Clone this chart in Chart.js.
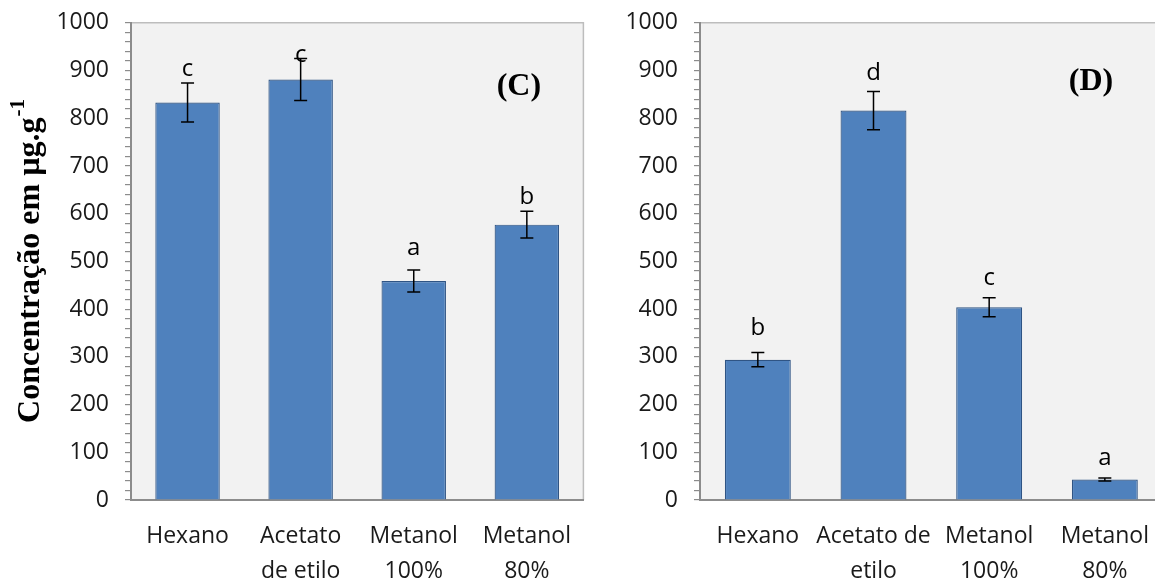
<!DOCTYPE html>
<html>
<head>
<meta charset="utf-8">
<script src="https://cdn.jsdelivr.net/npm/chart.js@4.4.1/dist/chart.umd.min.js"></script>
<style>
  body { margin: 0; background: #fff; width: 1155px; height: 583px; overflow: hidden; position: relative; }
  #panelC { position: absolute; left: 0; top: -7px; }
  #panelD { position: absolute; left: 580px; top: -7px; }
</style>
</head>
<body>
<canvas id="panelC" width="590" height="590"></canvas>
<canvas id="panelD" width="588" height="590"></canvas>
<script>
// panel C
const categoriesC = ["Hexano", ["Acetato", "de etilo"], ["Metanol", "100%"], ["Metanol", "80%"]];
const valuesC = [833, 881, 459, 577];
const errorsC = [41, 44, 23, 28];
const lettersC = ["c", "c", "a", "b"];
const letterYC = [902, 933, 527, 635];

// panel D
const categoriesD = ["Hexano", ["Acetato de", "etilo"], ["Metanol", "100%"], ["Metanol", "80%"]];
const valuesD = [294, 816, 404, 43];
const errorsD = [15, 40, 20, 3];
const lettersD = ["b", "d", "c", "a"];
const letterYD = [360, 895, 465, 88];

const yTicks = [0, 100, 200, 300, 400, 500, 600, 700, 800, 900, 1000];
const yTitle = "Concentração em µg.g";
const yTitleSup = "-1";

const tickFont = "Open Sans";
const gray = "#8c8c8c";

function panelPlugin(errors, letters, letterY, tag, tagPos, withTitle) {
  return {
    id: "panel" + tag,
    beforeDraw(chart) {
      const a = chart.chartArea;
      const c = chart.ctx;
      c.save();
      c.fillStyle = "#f2f2f2";
      c.fillRect(a.left, a.top, a.right - a.left, a.bottom - a.top);
      c.strokeStyle = "#bdbdbd";
      c.lineWidth = 1.5;
      c.beginPath();
      c.moveTo(a.left, a.top);
      c.lineTo(a.right, a.top);
      c.lineTo(a.right, a.bottom);
      c.stroke();
      c.restore();
    },
    afterDatasetsDraw(chart) {
      const c = chart.ctx;
      const x = chart.scales.x;
      const y = chart.scales.y;
      const vals = chart.data.datasets[0].data;
      c.save();
      // error bars
      c.strokeStyle = "#000";
      c.lineWidth = 1.5;
      vals.forEach((v, i) => {
        const px = x.getPixelForValue(i);
        const hi = y.getPixelForValue(v + errors[i]);
        const lo = y.getPixelForValue(v - errors[i]);
        c.beginPath();
        c.moveTo(px, hi); c.lineTo(px, lo);
        c.moveTo(px - 6.5, hi); c.lineTo(px + 6.5, hi);
        c.moveTo(px - 6.5, lo); c.lineTo(px + 6.5, lo);
        c.stroke();
      });
      // significance letters
      c.fillStyle = "#000";
      c.font = "24px '" + tickFont + "'";
      c.textAlign = "center";
      c.textBaseline = "middle";
      letters.forEach((t, i) => {
        c.fillText(t, x.getPixelForValue(i), y.getPixelForValue(letterY[i]));
      });
      // panel tag
      c.font = "bold 32px 'Liberation Serif'";
      c.fillText(tag, x.getPixelForValue(tagPos[0]), y.getPixelForValue(tagPos[1]));
      // y axis title with superscript
      if (withTitle) {
        c.translate(39, (chart.chartArea.top + chart.chartArea.bottom) / 2);
        c.rotate(-Math.PI / 2);
        c.font = "bold 32px 'Liberation Serif'";
        const w1 = c.measureText(yTitle).width;
        c.font = "bold 21px 'Liberation Serif'";
        const w2 = c.measureText(yTitleSup).width;
        const start = -(w1 + w2) / 2;
        c.textAlign = "left";
        c.textBaseline = "alphabetic";
        c.font = "bold 32px 'Liberation Serif'";
        c.fillText(yTitle, start, 0);
        c.font = "bold 21px 'Liberation Serif'";
        c.fillText(yTitleSup, start + w1 + 1, -15);
      }
      c.restore();
    }
  };
}

function makePanel(id, labels, values, errors, letters, letterY, tag, tagPos, axisWidth, withTitle) {
  const ctx = document.getElementById(id).getContext("2d");
  return new Chart(ctx, {
    type: "bar",
    data: {
      labels: labels,
      datasets: [{
        data: values,
        backgroundColor: "#4f81bd",
        borderColor: "#2f5484",
        borderWidth: 1.2,
        categoryPercentage: 1,
        barPercentage: 0.57,
      }],
    },
    options: {
      responsive: false,
      animation: false,
      devicePixelRatio: 1,
      layout: { padding: { top: 13, right: 0, bottom: 0, left: 0 } },
      plugins: { legend: { display: false }, tooltip: { enabled: false } },
      scales: {
        x: {
          grid: { display: false, drawTicks: false },
          border: { display: true, color: gray, width: 2 },
          ticks: {
            color: "#1a1a1a",
            font: { family: tickFont, size: 23, lineHeight: 1.52 },
            padding: 19,
            maxRotation: 0,
            autoSkip: false,
          },
          afterFit: (s) => { s.height = 83; },
        },
        y: {
          min: 0,
          max: 1000,
          grid: { drawOnChartArea: false, drawTicks: true, tickLength: 6, color: gray, lineWidth: 1.2 },
          border: { display: true, color: gray, width: 2 },
          ticks: {
            stepSize: 20,
            maxTicksLimit: 100,
            autoSkip: false,
            padding: 16,
            color: "#1a1a1a",
            font: { family: tickFont, size: 23 },
            callback: (v) => (yTicks.includes(v) ? String(v) : ""),
          },
          afterFit: (s) => { s.width = axisWidth; },
        },
      },
    },
    plugins: [panelPlugin(errors, letters, letterY, tag, tagPos, withTitle)],
  });
}

makePanel("panelC", categoriesC, valuesC, errorsC, lettersC, letterYC, "(C)", [2.93, 865], 131, true);
makePanel("panelD", categoriesD, valuesD, errorsD, lettersD, letterYD, "(D)", [2.88, 876], 120, false);
</script>
</body>
</html>
